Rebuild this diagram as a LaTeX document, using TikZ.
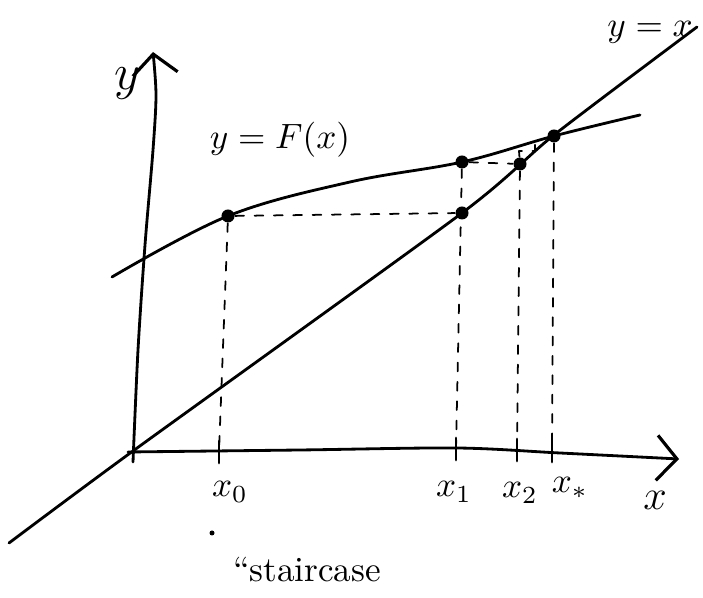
\documentclass[tikz,border=0pt]{standalone}
\usetikzlibrary{arrows.meta}
\begin{document}
\begin{tikzpicture}[x=0.01cm,y=-0.01cm,line cap=round,line join=round,
        dot/.style={circle,fill=black,inner sep=0pt,minimum size=1.3mm},
        guide/.style={line width=0.5pt,dash pattern=on 2.5pt off 3pt},
        tip/.style={-{Straight Barb[length=2mm,width=4.5mm,line width=0.9pt]}}]
        \useasboundingbox (0,0) rectangle (703,598);
        % axes
        \draw[thick,tip] plot[smooth] coordinates {(128,452) (300,450) (457,448) (560,453) (679,459)};
        \draw[thick,tip] plot[smooth] coordinates {(133,462) (138,350) (145,245) (153,150) (156,95) (153,52)};
        \node[font=\Large] (ylab) at (127,84) {$y$};
        \node[font=\large] (xlab) at (655,500) {$x$};
        % y=x and y=F(x)
        \draw[thick] plot[smooth,tension=0.4] coordinates {(9,543) (133,451) (462,213) (554,135) (697,27)};
        \draw[thick] plot[smooth,tension=0.6] coordinates {(112,277) (228,216) (350,182) (462,162) (554,136) (640,115)};
        \node (diaglab) at (650,32) {$y=x$};
        \node (curvelab) at (280,140) {$y=F(x)$};
        % iterates
        \node[dot] (p0) at (228,216) {};
        \node[dot] (d1) at (462,213) {};
        \node[dot] (f1) at (462,162) {};
        \node[dot] (d2) at (520,164) {};
        \node[dot] (star) at (554,136) {};
        \coordinate (t0) at (219,452);
        \coordinate (t1) at (456,449);
        \coordinate (t2) at (517,450);
        \coordinate (ts) at (552,451);
        \foreach \t in {t0,t1,t2,ts}
            \draw[thick] (\t) ++(0,-11) -- ++(0,22);
        \draw[guide] (p0) -- (d1) (f1) -- (d2)
              (p0) -- (t0) (f1) -- (t1) (d2) -- (t2) (star) -- (ts);
        \draw[guide] (d2) -- (519,151) -- (535,151) -- (535,144);
        \node (l0) at (230,492) {$x_0$};
        \node (l1) at (454,492) {$x_1$};
        \node (l2) at (520,493) {$x_2$};
        \node (ls) at (570,488) {$x_*$};
        \fill (212,533) circle (2.5);
        \node (stair) at (307,570) {``staircase};
    \end{tikzpicture}
\end{document}
